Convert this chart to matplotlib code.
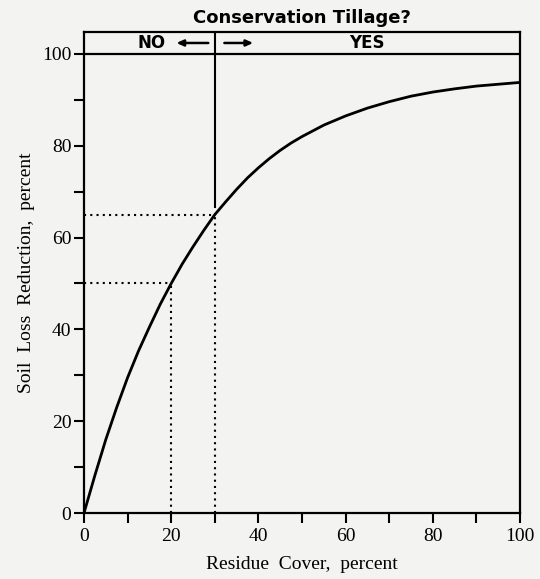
import numpy as np
import matplotlib.pyplot as plt

# residue cover (%) vs soil loss reduction (%)
residue = [0, 2.5, 5, 7.5, 10, 12.5, 15, 17.5, 20, 22.5, 25, 27.5, 30,
           32.5, 35, 37.5, 40, 42.5, 45, 47.5, 50, 55, 60, 65, 70, 75,
           80, 85, 90, 95, 100]
reduction = [0, 8.2, 16.0, 23.0, 29.5, 35.3, 40.5, 45.5, 50.0, 54.2, 58.0,
             61.6, 65.0, 67.8, 70.5, 73.0, 75.2, 77.2, 79.0, 80.6, 82.0,
             84.5, 86.5, 88.2, 89.6, 90.8, 91.7, 92.4, 93.0, 93.4, 93.8]

# reference lines
guide_x = [20, 30]
guide_y = [50, 65]
threshold = 30

bg = '#f3f3f1'
serif = ['Liberation Serif', 'DejaVu Serif']

fig = plt.figure(figsize=(5.4, 5.79), dpi=100, facecolor=bg)
ax = fig.add_axes([84/540, 1 - 513/579, 436/540, (513 - 32)/579])
ax.set_facecolor(bg)

ax.plot(residue, reduction, color='black', lw=2.0, solid_capstyle='round',
        solid_joinstyle='round')

for gx, gy in zip(guide_x, guide_y):
    ax.plot([0, gx], [gy, gy], color='black', lw=1.5, ls=(0, (1, 2)))
    ax.plot([gx, gx], [0, gy], color='black', lw=1.5, ls=(0, (1, 2)))

top = 100 + 22 / 4.6
ax.set_xlim(0, 100)
ax.set_ylim(0, top)

# header band
ax.axhline(100, color='black', lw=1.6)
ax.plot([threshold, threshold], [66.7, top], color='black', lw=1.5)

hdr_y = 100 + (top - 100) / 2
bold = dict(fontsize=12, fontweight='bold', family='DejaVu Sans',
            va='center', ha='center')
ax.text(15.6, hdr_y, 'NO', **bold)
ax.text(64.8, hdr_y, 'YES', **bold)
arrow = dict(arrowstyle='-|>,head_length=0.4,head_width=0.18', lw=1.8,
             color='black', shrinkA=0, shrinkB=0)
ax.annotate('', xy=(21.2, hdr_y), xytext=(28.5, hdr_y), arrowprops=arrow,
            annotation_clip=False)
ax.annotate('', xy=(38.8, hdr_y), xytext=(32.2, hdr_y), arrowprops=arrow,
            annotation_clip=False)
ax.text(50, top + 1.0, 'Conservation Tillage?', fontsize=13,
        fontweight='heavy', family='DejaVu Sans', ha='center', va='bottom')

for s in ax.spines.values():
    s.set_linewidth(1.6)

ax.set_xticks(np.arange(0, 101, 20))
ax.set_xticks(np.arange(0, 101, 10), minor=True)
ax.set_yticks(np.arange(0, 101, 20))
ax.set_yticks(np.arange(0, 101, 10), minor=True)
ax.tick_params(which='both', direction='out', length=7, width=1.5)
ax.tick_params(axis='x', pad=4)
ax.tick_params(axis='y', pad=2)
for lbl in ax.get_xticklabels() + ax.get_yticklabels():
    lbl.set_family(serif)
    lbl.set_fontsize(14)

ax.set_xlabel('Residue  Cover,  percent', family=serif, fontsize=14, labelpad=8)
ax.set_ylabel('Soil  Loss  Reduction,  percent', family=serif, fontsize=14,
              labelpad=5)

fig.savefig('out.png', dpi=100, facecolor=bg)
